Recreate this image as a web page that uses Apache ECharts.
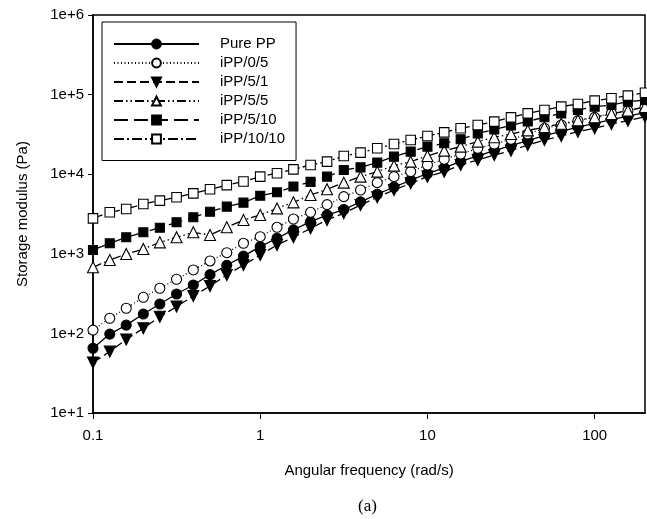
<!DOCTYPE html>
<html>
<head>
<meta charset="utf-8">
<script src="https://cdn.jsdelivr.net/npm/echarts@6/dist/echarts.min.js"></script>
<style>html,body{margin:0;padding:0;background:#fff;}#c{width:647px;height:519px;}</style>
</head>
<body>
<div id="c"></div>
<script>
const freq = [0.1, 0.126, 0.158, 0.2, 0.251, 0.316, 0.398, 0.501, 0.631, 0.794, 1, 1.26, 1.58, 2, 2.51, 3.16, 3.98, 5.01, 6.31, 7.94, 10, 12.6, 15.8, 20, 25.1, 31.6, 39.8, 50.1, 63.1, 79.4, 100, 126, 158, 200];
const purePP = [65, 98, 127, 175, 234, 313, 405, 547, 717, 934, 1230, 1567, 1995, 2536, 3070, 3600, 4500, 5600, 6900, 8400, 10200, 12000, 14500, 17000, 19800, 22800, 26500, 30500, 34500, 39000, 43500, 48500, 53500, 59500];
const iPP_0_5 = [110, 155, 207, 284, 369, 479, 627, 813, 1033, 1355, 1640, 2153, 2735, 3320, 4150, 5220, 6330, 7830, 9310, 10760, 13050, 15380, 17940, 21140, 23950, 27430, 31990, 37700, 41510, 47050, 51800, 58160, 62830, 69200];
const iPP_5_1 = [43, 59, 84, 116, 162, 217, 295, 394, 542, 723, 966, 1290, 1612, 2090, 2660, 3224, 4100, 5120, 6330, 7680, 9310, 10760, 13050, 15080, 17430, 19750, 23270, 26890, 30190, 34220, 37700, 42720, 47050, 52800];
const iPP_5_5 = [677, 836, 994, 1148, 1393, 1612, 1862, 1722, 2153, 2660, 3070, 3720, 4430, 5480, 6460, 7830, 9310, 10760, 12800, 14380, 16930, 19750, 22180, 25640, 29060, 32000, 35500, 39000, 43000, 47500, 52000, 57000, 63000, 70000];
const iPP_5_10 = [1117, 1355, 1612, 1862, 2128, 2490, 2875, 3380, 3910, 4390, 5370, 5920, 7000, 8000, 9310, 11290, 12200, 13960, 16610, 19190, 22180, 24430, 27430, 32500, 36500, 41000, 46000, 52000, 58160, 64050, 70530, 74000, 81500, 85540];
const iPP_10_10 = [2790, 3320, 3650, 4230, 4650, 5130, 5750, 6460, 7300, 8100, 9310, 10300, 11500, 13070, 14380, 16930, 18640, 21140, 23950, 26890, 30190, 33570, 37700, 41510, 45710, 51800, 58160, 64050, 70530, 76200, 83900, 89800, 97000, 105700];
const seriesNames = ['Pure PP', 'iPP/0/5', 'iPP/5/1', 'iPP/5/5', 'iPP/5/10', 'iPP/10/10'];
const xTickLabels = ['0.1', '1', '10', '100'];

const pair = arr => freq.map((f, i) => [f, arr[i]]);
const FONT = 'Liberation Sans, Arial, sans-serif';
const triDown = 'path://M0,0 L10,0 L5,9 Z';
const triUp = 'path://M5,0 L10,9 L0,9 Z';

function mk(name, data, symbol, size, filled, dash) {
  return {
    name: name, type: 'line', data: pair(data),
    symbol: symbol, symbolSize: size, showSymbol: true,
    lineStyle: {color: '#000', width: 1.3, type: dash},
    itemStyle: {color: filled ? '#000' : '#fff', borderColor: '#000', borderWidth: 1.1},
    emphasis: {disabled: true}, animation: false
  };
}

const chart = echarts.init(document.getElementById('c'), null, {renderer: 'canvas'});
chart.setOption({
  animation: false,
  backgroundColor: '#fff',
  grid: {left: 93, right: 2, top: 15, bottom: 106, show: true, borderColor: '#000', borderWidth: 1.5, backgroundColor: 'transparent'},
  legend: {
    data: seriesNames, orient: 'vertical', left: 102, top: 22,
    padding: [14.5, 11, 14, 11], itemWidth: 85, itemHeight: 11, itemGap: 4,
    borderColor: '#000', borderWidth: 1, backgroundColor: '#fff',
    textStyle: {fontSize: 15, fontFamily: FONT, color: '#000', padding: [0, 0, 0, 16]},
    selectedMode: false
  },
  xAxis: {
    type: 'log', logBase: 10, min: 0.1, max: 200,
    name: 'Angular frequency (rad/s)', nameLocation: 'middle', nameGap: 50,
    nameTextStyle: {fontSize: 15, fontFamily: FONT, color: '#000'},
    axisLine: {lineStyle: {color: '#000', width: 1.5}},
    axisTick: {show: true, inside: false, length: 6, lineStyle: {color: '#000'}},
    axisLabel: {fontSize: 15, fontFamily: FONT, color: '#000', margin: 15, showMaxLabel: false,
      formatter: v => { const e = Math.log10(v); const r = Math.round(e); if (Math.abs(e - r) > 1e-6) return ''; return xTickLabels[r + 1] || ''; }},
    splitLine: {show: false}, minorTick: {show: false}
  },
  yAxis: {
    type: 'log', logBase: 10, min: 10, max: 1e6,
    name: 'Storage modulus (Pa)', nameLocation: 'middle', nameGap: 63,
    nameTextStyle: {fontSize: 15, fontFamily: FONT, color: '#000'},
    axisLine: {lineStyle: {color: '#000', width: 1.5}},
    axisTick: {show: true, inside: false, length: 5, lineStyle: {color: '#000'}},
    axisLabel: {fontSize: 15, fontFamily: FONT, color: '#000', margin: 9,
      formatter: v => '1e+' + Math.round(Math.log10(v))},
    splitLine: {show: false}
  },
  series: [
    mk(seriesNames[0], purePP, 'circle', 10, true, 'solid'),
    mk(seriesNames[1], iPP_0_5, 'circle', 10, false, [1, 2.5]),
    mk(seriesNames[2], iPP_5_1, triDown, 11, true, [9, 4]),
    mk(seriesNames[3], iPP_5_5, triUp, 11, false, [9, 3, 1.5, 3, 1.5, 3]),
    mk(seriesNames[4], iPP_5_10, 'rect', 9, true, [14, 6]),
    mk(seriesNames[5], iPP_10_10, 'rect', 9.5, false, [10, 3, 2, 3])
  ],
  graphic: [{type: 'text', left: 358, top: 498, style: {text: '(a)', font: '17px "Liberation Serif", "Times New Roman", serif', fill: '#000'}}]
});
</script>
</body>
</html>
